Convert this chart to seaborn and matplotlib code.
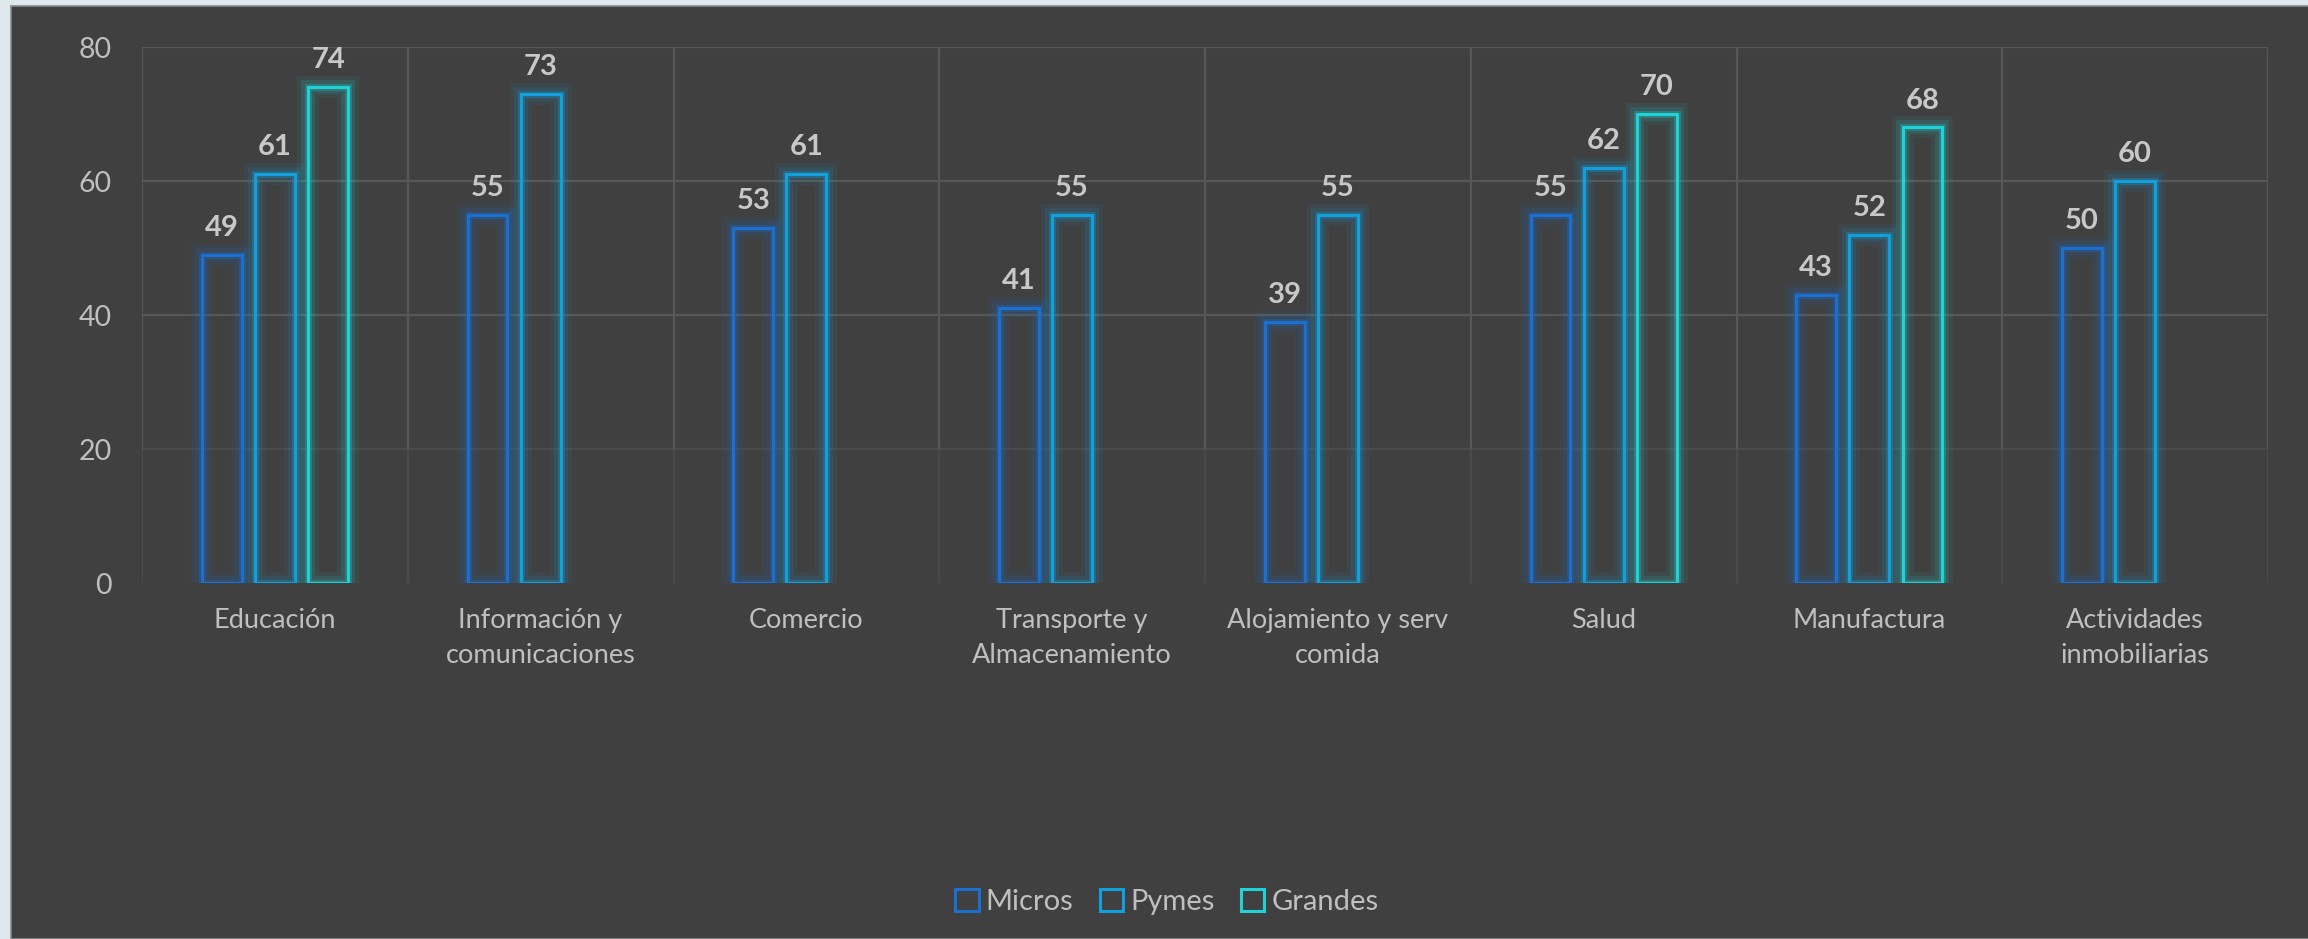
import numpy as np
import pandas as pd
import matplotlib
matplotlib.use("Agg")
import matplotlib.pyplot as plt
import matplotlib.patheffects as pe
from matplotlib.patches import Patch, Rectangle
import seaborn as sns

# ---- data -------------------------------------------------------------
categories = [
    "Educación",
    "Información y\ncomunicaciones",
    "Comercio",
    "Transporte y\nAlmacenamiento",
    "Alojamiento y serv\ncomida",
    "Salud",
    "Manufactura",
    "Actividades\ninmobiliarias",
]
micros = [49, 55, 53, 41, 39, 55, 43, 50]
pymes = [61, 73, 61, 55, 55, 62, 52, 60]
grandes = [74, np.nan, np.nan, np.nan, np.nan, 70, 68, np.nan]
series_names = ["Micros", "Pymes", "Grandes"]
y_ticks = [0, 20, 40, 60, 80]

# ---- style ------------------------------------------------------------
colors = ["#1a6fcf", "#12a0dc", "#1fd2d6"]
panel_bg = "#404040"
outer_bg = "#dfe9ed"
text_col = "#bfbfbf"
label_col = "#c8c8c8"
grid_col = "#575757"
grid_faint = "#4a4a4a"

sns.set_theme(style="white")
plt.rcParams["font.family"] = ["Lato", "DejaVu Sans"]

df = pd.DataFrame({
    "Sector": np.repeat(categories, 3),
    "Tamaño": series_names * len(categories),
    "Valor": np.column_stack([micros, pymes, grandes]).ravel(),
})

fig = plt.figure(figsize=(23.08, 9.39), dpi=100, facecolor=outer_bg)
# dark chart panel
fig.patches.append(Rectangle((11 / 2308, 0), 1, 1 - 6 / 939, transform=fig.transFigure,
                             facecolor=panel_bg, edgecolor="#8a8a8a", linewidth=1.2,
                             zorder=-10))

ax = fig.add_axes([142 / 2308, 1 - 583 / 939, (2268 - 142) / 2308, (583 - 47) / 939])
ax.set_facecolor(panel_bg)

sns.barplot(data=df, x="Sector", y="Valor", hue="Tamaño", hue_order=series_names,
            order=categories, palette=colors, fill=False, width=0.6, gap=0.25,
            linewidth=2.2, errorbar=None, legend=False, ax=ax, zorder=3)

# glow around each bar outline
for container, c in zip(ax.containers, colors):
    for bar in container:
        bar.set_path_effects([
            pe.Stroke(linewidth=16, foreground=c, alpha=0.07),
            pe.Stroke(linewidth=10, foreground=c, alpha=0.13),
            pe.Stroke(linewidth=5, foreground=c, alpha=0.28),
            pe.Normal(),
        ])
    ax.bar_label(container, fmt="%.0f", padding=10, color=label_col,
                 fontsize=21, fontweight="bold")

# gridlines: horizontal at ticks, vertical at category boundaries
ax.set_xlim(-0.5, len(categories) - 0.5)
ax.set_ylim(0, 80)
for yv in y_ticks[1:]:
    ax.axhline(yv, color=grid_faint if yv == 20 else grid_col, linewidth=1.6, zorder=1)
bounds = np.arange(len(categories) + 1) - 0.5
ax.vlines(bounds, 20, 80, color=grid_col, linewidth=1.6, zorder=1)
ax.vlines(bounds, 0, 20, color=grid_faint, linewidth=1.6, zorder=1)

for s in ax.spines.values():
    s.set_visible(False)

ax.set_yticks(y_ticks)
ax.set_xlabel("")
ax.set_ylabel("")
ax.tick_params(axis="y", length=0, pad=22, labelsize=20.5, labelcolor=text_col)
ax.tick_params(axis="x", length=0, pad=18, labelsize=19.5, labelcolor=text_col)
for t in ax.get_xticklabels():
    t.set_linespacing(1.5)

handles = [Patch(facecolor="none", edgecolor=c, linewidth=2.2, label=n)
           for c, n in zip(colors, series_names)]
fig.legend(handles=handles, loc="center", bbox_to_anchor=(1167 / 2308, 1 - 902 / 939),
           ncol=3, frameon=False, fontsize=21, labelcolor=text_col,
           handlelength=0.8, handleheight=0.8, handletextpad=0.25, columnspacing=0.9)

fig.savefig("out.png", dpi=100, facecolor=outer_bg)
